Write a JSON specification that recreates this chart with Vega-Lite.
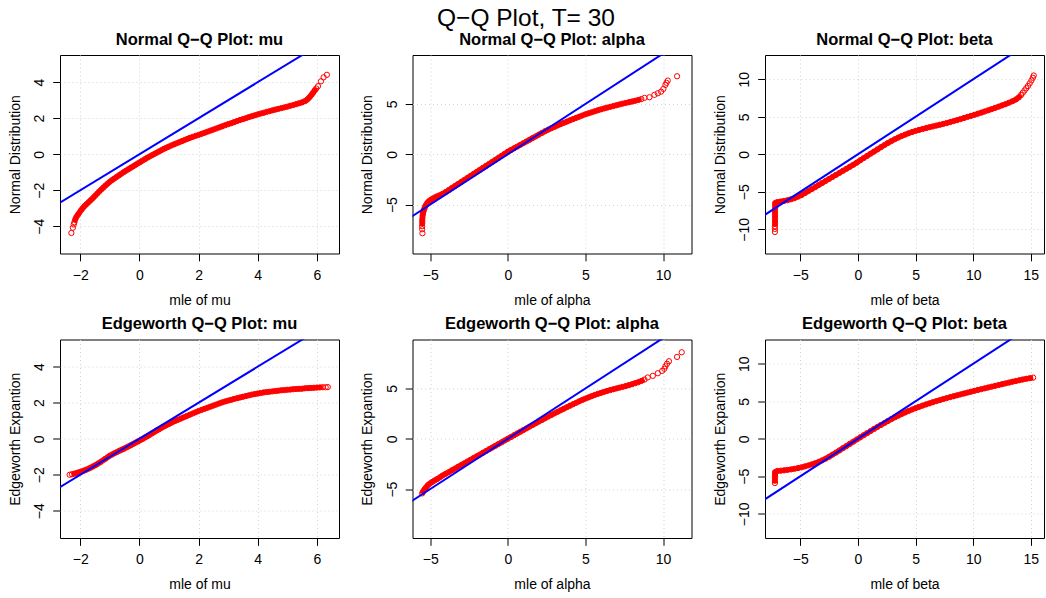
{
"$schema": "https://vega.github.io/schema/vega-lite/v6.json",
"padding": {"left": 7, "top": 5, "right": 0, "bottom": 0},
"title": {"text": "Q−Q Plot, T= 30", "fontSize": 24.5, "fontWeight": "normal", "anchor": "middle", "offset": -19, "baseline": "alphabetic"},
"columns": 3,
"spacing": {"row": 85.5, "column": 73.5},
"bounds": "flush",
"datasets": {
"ref": [{"x":-20,"y":-20},{"x":20,"y":20}],
"nm": [{"x":-2.30,"y":-4.37},{"x":-2.25,"y":-4.08},{"x":-2.22,"y":-3.90},{"x":-2.20,"y":-3.78},{"x":-2.17,"y":-3.62},{"x":-2.13,"y":-3.48},{"x":-2.08,"y":-3.36},{"x":-2.03,"y":-3.24},{"x":-1.97,"y":-3.10},{"x":-1.91,"y":-2.98},{"x":-1.85,"y":-2.87},{"x":-1.78,"y":-2.76},{"x":-1.71,"y":-2.65},{"x":-1.64,"y":-2.54},{"x":-1.57,"y":-2.43},{"x":-1.50,"y":-2.31},{"x":-1.43,"y":-2.19},{"x":-1.36,"y":-2.07},{"x":-1.29,"y":-1.96},{"x":-1.22,"y":-1.85},{"x":-1.15,"y":-1.74},{"x":-1.08,"y":-1.64},{"x":-1.01,"y":-1.54},{"x":-0.93,"y":-1.44},{"x":-0.85,"y":-1.35},{"x":-0.77,"y":-1.26},{"x":-0.69,"y":-1.17},{"x":-0.61,"y":-1.08},{"x":-0.53,"y":-0.99},{"x":-0.45,"y":-0.91},{"x":-0.37,"y":-0.83},{"x":-0.29,"y":-0.75},{"x":-0.21,"y":-0.67},{"x":-0.13,"y":-0.59},{"x":-0.05,"y":-0.51},{"x":0.03,"y":-0.43},{"x":0.11,"y":-0.35},{"x":0.19,"y":-0.27},{"x":0.27,"y":-0.19},{"x":0.35,"y":-0.12},{"x":0.43,"y":-0.05},{"x":0.51,"y":0.02},{"x":0.59,"y":0.09},{"x":0.67,"y":0.16},{"x":0.75,"y":0.23},{"x":0.83,"y":0.30},{"x":0.91,"y":0.36},{"x":0.99,"y":0.42},{"x":1.08,"y":0.49},{"x":1.17,"y":0.55},{"x":1.26,"y":0.61},{"x":1.35,"y":0.67},{"x":1.44,"y":0.73},{"x":1.53,"y":0.79},{"x":1.62,"y":0.85},{"x":1.71,"y":0.91},{"x":1.80,"y":0.96},{"x":1.90,"y":1.02},{"x":2.00,"y":1.07},{"x":2.10,"y":1.13},{"x":2.20,"y":1.19},{"x":2.30,"y":1.25},{"x":2.40,"y":1.31},{"x":2.50,"y":1.37},{"x":2.60,"y":1.43},{"x":2.70,"y":1.49},{"x":2.80,"y":1.55},{"x":2.90,"y":1.61},{"x":3.00,"y":1.67},{"x":3.10,"y":1.72},{"x":3.20,"y":1.78},{"x":3.30,"y":1.84},{"x":3.40,"y":1.90},{"x":3.50,"y":1.95},{"x":3.60,"y":2.00},{"x":3.70,"y":2.06},{"x":3.80,"y":2.11},{"x":3.90,"y":2.16},{"x":4.00,"y":2.21},{"x":4.10,"y":2.26},{"x":4.20,"y":2.30},{"x":4.30,"y":2.35},{"x":4.40,"y":2.39},{"x":4.50,"y":2.44},{"x":4.60,"y":2.48},{"x":4.70,"y":2.52},{"x":4.80,"y":2.56},{"x":4.90,"y":2.60},{"x":5.00,"y":2.64},{"x":5.10,"y":2.69},{"x":5.20,"y":2.73},{"x":5.30,"y":2.78},{"x":5.40,"y":2.83},{"x":5.50,"y":2.88},{"x":5.60,"y":2.95},{"x":5.67,"y":3.03},{"x":5.73,"y":3.12},{"x":5.78,"y":3.22},{"x":5.83,"y":3.32},{"x":5.88,"y":3.43},{"x":5.93,"y":3.55},{"x":5.98,"y":3.65},{"x":6.04,"y":3.78},{"x":6.14,"y":4.05},{"x":6.23,"y":4.27},{"x":6.34,"y":4.41}],
"na": [{"x":-5.50,"y":-7.85},{"x":-5.52,"y":-7.45},{"x":-5.52,"y":-7.15},{"x":-5.51,"y":-6.85},{"x":-5.51,"y":-6.60},{"x":-5.50,"y":-6.35},{"x":-5.49,"y":-6.10},{"x":-5.47,"y":-5.90},{"x":-5.44,"y":-5.70},{"x":-5.40,"y":-5.50},{"x":-5.35,"y":-5.30},{"x":-5.30,"y":-5.12},{"x":-5.24,"y":-4.96},{"x":-5.17,"y":-4.81},{"x":-5.09,"y":-4.68},{"x":-5.00,"y":-4.57},{"x":-4.90,"y":-4.47},{"x":-4.80,"y":-4.38},{"x":-4.68,"y":-4.28},{"x":-4.55,"y":-4.18},{"x":-4.40,"y":-4.08},{"x":-4.20,"y":-3.93},{"x":-4.00,"y":-3.75},{"x":-3.80,"y":-3.55},{"x":-3.60,"y":-3.35},{"x":-3.40,"y":-3.15},{"x":-3.20,"y":-2.95},{"x":-3.00,"y":-2.75},{"x":-2.80,"y":-2.55},{"x":-2.60,"y":-2.35},{"x":-2.40,"y":-2.15},{"x":-2.20,"y":-1.95},{"x":-2.00,"y":-1.75},{"x":-1.80,"y":-1.55},{"x":-1.60,"y":-1.35},{"x":-1.40,"y":-1.15},{"x":-1.20,"y":-0.95},{"x":-1.00,"y":-0.75},{"x":-0.80,"y":-0.55},{"x":-0.60,"y":-0.35},{"x":-0.40,"y":-0.15},{"x":-0.20,"y":0.05},{"x":0.00,"y":0.25},{"x":0.20,"y":0.42},{"x":0.40,"y":0.59},{"x":0.60,"y":0.76},{"x":0.80,"y":0.93},{"x":1.00,"y":1.10},{"x":1.20,"y":1.27},{"x":1.40,"y":1.44},{"x":1.60,"y":1.61},{"x":1.80,"y":1.78},{"x":2.00,"y":1.95},{"x":2.20,"y":2.12},{"x":2.40,"y":2.29},{"x":2.60,"y":2.44},{"x":2.80,"y":2.58},{"x":3.00,"y":2.72},{"x":3.20,"y":2.86},{"x":3.40,"y":2.99},{"x":3.60,"y":3.12},{"x":3.80,"y":3.24},{"x":4.00,"y":3.37},{"x":4.20,"y":3.49},{"x":4.40,"y":3.61},{"x":4.60,"y":3.73},{"x":4.80,"y":3.85},{"x":5.00,"y":3.97},{"x":5.20,"y":4.07},{"x":5.40,"y":4.17},{"x":5.60,"y":4.27},{"x":5.80,"y":4.37},{"x":6.00,"y":4.46},{"x":6.20,"y":4.55},{"x":6.40,"y":4.63},{"x":6.60,"y":4.71},{"x":6.80,"y":4.79},{"x":7.00,"y":4.87},{"x":7.20,"y":4.95},{"x":7.40,"y":5.03},{"x":7.60,"y":5.10},{"x":7.80,"y":5.17},{"x":8.00,"y":5.24},{"x":8.20,"y":5.31},{"x":8.40,"y":5.39},{"x":8.60,"y":5.48},{"x":8.80,"y":5.60},{"x":9.12,"y":5.66},{"x":9.44,"y":5.90},{"x":9.66,"y":6.06},{"x":9.87,"y":6.22},{"x":10.02,"y":6.49},{"x":10.15,"y":6.89},{"x":10.22,"y":7.10},{"x":10.30,"y":7.32},{"x":10.90,"y":7.75}],
"nb": [{"x":-7.20,"y":-10.36},{"x":-7.20,"y":-9.95},{"x":-7.20,"y":-9.60},{"x":-7.19,"y":-9.25},{"x":-7.19,"y":-8.90},{"x":-7.19,"y":-8.55},{"x":-7.19,"y":-8.20},{"x":-7.19,"y":-7.85},{"x":-7.19,"y":-7.50},{"x":-7.18,"y":-7.15},{"x":-7.18,"y":-6.80},{"x":-7.17,"y":-6.50},{"x":-7.00,"y":-6.38},{"x":-6.70,"y":-6.30},{"x":-6.40,"y":-6.22},{"x":-6.10,"y":-6.12},{"x":-5.80,"y":-6.00},{"x":-5.50,"y":-5.85},{"x":-5.20,"y":-5.65},{"x":-4.90,"y":-5.45},{"x":-4.60,"y":-5.18},{"x":-4.30,"y":-4.91},{"x":-4.00,"y":-4.64},{"x":-3.70,"y":-4.37},{"x":-3.40,"y":-4.10},{"x":-3.10,"y":-3.83},{"x":-2.80,"y":-3.56},{"x":-2.50,"y":-3.29},{"x":-2.20,"y":-3.02},{"x":-1.90,"y":-2.75},{"x":-1.60,"y":-2.48},{"x":-1.30,"y":-2.21},{"x":-1.00,"y":-1.94},{"x":-0.70,"y":-1.67},{"x":-0.40,"y":-1.40},{"x":-0.10,"y":-1.12},{"x":0.20,"y":-0.80},{"x":0.50,"y":-0.51},{"x":0.80,"y":-0.22},{"x":1.10,"y":0.07},{"x":1.40,"y":0.36},{"x":1.70,"y":0.65},{"x":2.00,"y":0.94},{"x":2.30,"y":1.23},{"x":2.60,"y":1.50},{"x":2.90,"y":1.76},{"x":3.20,"y":2.00},{"x":3.50,"y":2.22},{"x":3.80,"y":2.43},{"x":4.10,"y":2.62},{"x":4.40,"y":2.80},{"x":4.70,"y":2.96},{"x":5.00,"y":3.11},{"x":5.30,"y":3.24},{"x":5.60,"y":3.36},{"x":5.90,"y":3.48},{"x":6.20,"y":3.60},{"x":6.50,"y":3.71},{"x":6.80,"y":3.82},{"x":7.10,"y":3.93},{"x":7.40,"y":4.04},{"x":7.70,"y":4.16},{"x":8.00,"y":4.29},{"x":8.30,"y":4.42},{"x":8.60,"y":4.55},{"x":8.90,"y":4.69},{"x":9.20,"y":4.83},{"x":9.50,"y":4.97},{"x":9.80,"y":5.11},{"x":10.10,"y":5.25},{"x":10.40,"y":5.40},{"x":10.70,"y":5.55},{"x":11.00,"y":5.70},{"x":11.30,"y":5.86},{"x":11.60,"y":6.02},{"x":11.90,"y":6.18},{"x":12.20,"y":6.34},{"x":12.50,"y":6.51},{"x":12.80,"y":6.68},{"x":13.10,"y":6.87},{"x":13.40,"y":7.07},{"x":13.70,"y":7.30},{"x":13.95,"y":7.58},{"x":14.15,"y":7.90},{"x":14.30,"y":8.20},{"x":14.45,"y":8.50},{"x":14.60,"y":8.80},{"x":14.75,"y":9.10},{"x":14.90,"y":9.45},{"x":15.05,"y":9.85},{"x":15.18,"y":10.20},{"x":15.25,"y":10.50}],
"em": [{"x":-2.36,"y":-2.00},{"x":-2.28,"y":-1.97},{"x":-2.20,"y":-1.94},{"x":-2.12,"y":-1.90},{"x":-2.04,"y":-1.86},{"x":-1.96,"y":-1.82},{"x":-1.88,"y":-1.77},{"x":-1.80,"y":-1.72},{"x":-1.72,"y":-1.66},{"x":-1.64,"y":-1.60},{"x":-1.56,"y":-1.53},{"x":-1.48,"y":-1.46},{"x":-1.40,"y":-1.38},{"x":-1.32,"y":-1.30},{"x":-1.24,"y":-1.21},{"x":-1.16,"y":-1.12},{"x":-1.08,"y":-1.03},{"x":-1.00,"y":-0.94},{"x":-0.92,"y":-0.87},{"x":-0.84,"y":-0.80},{"x":-0.76,"y":-0.74},{"x":-0.68,"y":-0.67},{"x":-0.60,"y":-0.61},{"x":-0.52,"y":-0.55},{"x":-0.44,"y":-0.48},{"x":-0.36,"y":-0.42},{"x":-0.28,"y":-0.35},{"x":-0.20,"y":-0.28},{"x":-0.12,"y":-0.21},{"x":-0.04,"y":-0.14},{"x":0.04,"y":-0.07},{"x":0.12,"y":0.00},{"x":0.20,"y":0.08},{"x":0.28,"y":0.15},{"x":0.36,"y":0.23},{"x":0.44,"y":0.31},{"x":0.52,"y":0.39},{"x":0.60,"y":0.47},{"x":0.68,"y":0.54},{"x":0.76,"y":0.62},{"x":0.84,"y":0.69},{"x":0.92,"y":0.76},{"x":1.00,"y":0.82},{"x":1.10,"y":0.90},{"x":1.20,"y":0.98},{"x":1.30,"y":1.05},{"x":1.40,"y":1.12},{"x":1.50,"y":1.19},{"x":1.60,"y":1.26},{"x":1.70,"y":1.33},{"x":1.80,"y":1.40},{"x":1.90,"y":1.47},{"x":2.00,"y":1.54},{"x":2.10,"y":1.60},{"x":2.20,"y":1.66},{"x":2.30,"y":1.72},{"x":2.40,"y":1.78},{"x":2.50,"y":1.84},{"x":2.60,"y":1.90},{"x":2.70,"y":1.96},{"x":2.80,"y":2.02},{"x":2.90,"y":2.07},{"x":3.00,"y":2.12},{"x":3.10,"y":2.16},{"x":3.20,"y":2.21},{"x":3.30,"y":2.25},{"x":3.40,"y":2.29},{"x":3.50,"y":2.33},{"x":3.60,"y":2.37},{"x":3.70,"y":2.41},{"x":3.80,"y":2.45},{"x":3.90,"y":2.48},{"x":4.00,"y":2.51},{"x":4.10,"y":2.54},{"x":4.20,"y":2.57},{"x":4.30,"y":2.59},{"x":4.40,"y":2.61},{"x":4.50,"y":2.63},{"x":4.60,"y":2.65},{"x":4.70,"y":2.67},{"x":4.80,"y":2.69},{"x":4.90,"y":2.70},{"x":5.00,"y":2.72},{"x":5.10,"y":2.73},{"x":5.20,"y":2.75},{"x":5.30,"y":2.76},{"x":5.40,"y":2.77},{"x":5.50,"y":2.78},{"x":5.60,"y":2.80},{"x":5.70,"y":2.81},{"x":5.80,"y":2.82},{"x":5.90,"y":2.83},{"x":6.00,"y":2.84},{"x":6.10,"y":2.85},{"x":6.20,"y":2.86},{"x":6.30,"y":2.86},{"x":6.37,"y":2.87}],
"ea": [{"x":-5.52,"y":-5.43},{"x":-5.47,"y":-5.28},{"x":-5.41,"y":-5.12},{"x":-5.33,"y":-4.95},{"x":-5.24,"y":-4.78},{"x":-5.14,"y":-4.60},{"x":-5.02,"y":-4.45},{"x":-4.88,"y":-4.30},{"x":-4.72,"y":-4.15},{"x":-4.55,"y":-4.00},{"x":-4.38,"y":-3.84},{"x":-4.20,"y":-3.65},{"x":-4.00,"y":-3.48},{"x":-3.80,"y":-3.31},{"x":-3.60,"y":-3.13},{"x":-3.40,"y":-2.96},{"x":-3.20,"y":-2.78},{"x":-3.00,"y":-2.61},{"x":-2.80,"y":-2.44},{"x":-2.60,"y":-2.26},{"x":-2.40,"y":-2.09},{"x":-2.20,"y":-1.91},{"x":-2.00,"y":-1.74},{"x":-1.80,"y":-1.57},{"x":-1.60,"y":-1.39},{"x":-1.40,"y":-1.22},{"x":-1.20,"y":-1.04},{"x":-1.00,"y":-0.87},{"x":-0.80,"y":-0.70},{"x":-0.60,"y":-0.52},{"x":-0.40,"y":-0.35},{"x":-0.20,"y":-0.17},{"x":0.00,"y":0.00},{"x":0.20,"y":0.17},{"x":0.40,"y":0.35},{"x":0.60,"y":0.52},{"x":0.80,"y":0.69},{"x":1.00,"y":0.86},{"x":1.20,"y":1.03},{"x":1.40,"y":1.20},{"x":1.60,"y":1.37},{"x":1.80,"y":1.54},{"x":2.00,"y":1.71},{"x":2.20,"y":1.87},{"x":2.40,"y":2.04},{"x":2.60,"y":2.20},{"x":2.80,"y":2.36},{"x":3.00,"y":2.52},{"x":3.20,"y":2.67},{"x":3.40,"y":2.83},{"x":3.60,"y":2.98},{"x":3.80,"y":3.13},{"x":4.00,"y":3.28},{"x":4.20,"y":3.43},{"x":4.40,"y":3.57},{"x":4.60,"y":3.72},{"x":4.80,"y":3.86},{"x":5.00,"y":3.99},{"x":5.20,"y":4.11},{"x":5.40,"y":4.23},{"x":5.60,"y":4.35},{"x":5.80,"y":4.46},{"x":6.00,"y":4.56},{"x":6.20,"y":4.66},{"x":6.40,"y":4.75},{"x":6.60,"y":4.84},{"x":6.80,"y":4.92},{"x":7.00,"y":5.00},{"x":7.20,"y":5.08},{"x":7.40,"y":5.16},{"x":7.60,"y":5.24},{"x":7.80,"y":5.33},{"x":8.00,"y":5.42},{"x":8.20,"y":5.52},{"x":8.40,"y":5.62},{"x":8.60,"y":5.74},{"x":8.80,"y":5.88},{"x":9.01,"y":6.09},{"x":9.34,"y":6.25},{"x":9.66,"y":6.51},{"x":9.94,"y":6.74},{"x":10.08,"y":6.95},{"x":10.15,"y":7.20},{"x":10.25,"y":7.45},{"x":10.38,"y":7.70},{"x":10.90,"y":8.13},{"x":11.20,"y":8.59}],
"eb": [{"x":-7.20,"y":-5.90},{"x":-7.20,"y":-5.60},{"x":-7.20,"y":-5.30},{"x":-7.19,"y":-5.00},{"x":-7.19,"y":-4.70},{"x":-7.18,"y":-4.45},{"x":-7.00,"y":-4.30},{"x":-6.70,"y":-4.26},{"x":-6.40,"y":-4.21},{"x":-6.10,"y":-4.15},{"x":-5.80,"y":-4.08},{"x":-5.50,"y":-4.00},{"x":-5.20,"y":-3.91},{"x":-4.90,"y":-3.81},{"x":-4.60,"y":-3.69},{"x":-4.30,"y":-3.56},{"x":-4.00,"y":-3.42},{"x":-3.70,"y":-3.26},{"x":-3.40,"y":-3.08},{"x":-3.10,"y":-2.88},{"x":-2.80,"y":-2.65},{"x":-2.50,"y":-2.40},{"x":-2.20,"y":-2.12},{"x":-1.90,"y":-1.84},{"x":-1.60,"y":-1.55},{"x":-1.30,"y":-1.26},{"x":-1.00,"y":-0.97},{"x":-0.70,"y":-0.68},{"x":-0.40,"y":-0.39},{"x":-0.10,"y":-0.10},{"x":0.20,"y":0.19},{"x":0.50,"y":0.47},{"x":0.80,"y":0.75},{"x":1.10,"y":1.03},{"x":1.40,"y":1.31},{"x":1.70,"y":1.58},{"x":2.00,"y":1.84},{"x":2.30,"y":2.10},{"x":2.60,"y":2.36},{"x":2.90,"y":2.61},{"x":3.20,"y":2.85},{"x":3.50,"y":3.08},{"x":3.80,"y":3.30},{"x":4.10,"y":3.51},{"x":4.40,"y":3.71},{"x":4.70,"y":3.90},{"x":5.00,"y":4.08},{"x":5.30,"y":4.25},{"x":5.60,"y":4.41},{"x":5.90,"y":4.57},{"x":6.20,"y":4.72},{"x":6.50,"y":4.87},{"x":6.80,"y":5.01},{"x":7.10,"y":5.15},{"x":7.40,"y":5.29},{"x":7.70,"y":5.42},{"x":8.00,"y":5.55},{"x":8.30,"y":5.67},{"x":8.60,"y":5.79},{"x":8.90,"y":5.91},{"x":9.20,"y":6.03},{"x":9.50,"y":6.15},{"x":9.80,"y":6.27},{"x":10.10,"y":6.39},{"x":10.40,"y":6.50},{"x":10.70,"y":6.61},{"x":11.00,"y":6.72},{"x":11.30,"y":6.83},{"x":11.60,"y":6.94},{"x":11.90,"y":7.05},{"x":12.20,"y":7.16},{"x":12.50,"y":7.27},{"x":12.80,"y":7.38},{"x":13.10,"y":7.49},{"x":13.40,"y":7.60},{"x":13.70,"y":7.70},{"x":14.00,"y":7.80},{"x":14.30,"y":7.90},{"x":14.60,"y":7.99},{"x":14.90,"y":8.07},{"x":15.20,"y":8.15}]
},
"concat": [
{"width": 279, "height": 198.5, "title": "Normal Q−Q Plot: mu", "layer": [
 {"data": {"name": "nm"}, "transform": [{"filter": {"field": "x", "range": [-2.21, 6.0]}}], "mark": {"type": "line", "color": "#ff0000", "strokeWidth": 5},
  "encoding": {"x": {"field": "x", "type": "quantitative", "scale": {"domain": [-2.685, 6.75], "nice": false, "zero": false}, "axis": {"values": [-2,0,2,4,6], "title": "mle of mu"}},
   "y": {"field": "y", "type": "quantitative", "scale": {"domain": [-5.51, 5.51], "nice": false, "zero": false}, "axis": {"values": [-4,-2,0,2,4], "title": "Normal Distribution"}}, "order": {"field": "y", "type": "quantitative"}}},
 {"data": {"name": "nm"}, "mark": {"type": "point", "shape": "circle", "filled": false, "color": "#ff0000", "opacity": 1, "size": 28, "strokeWidth": 1},
  "encoding": {"x": {"field": "x", "type": "quantitative"}, "y": {"field": "y", "type": "quantitative"}}},
 {"data": {"name": "ref"}, "mark": {"type": "line", "color": "#0000ff", "strokeWidth": 2, "clip": true},
  "encoding": {"x": {"field": "x", "type": "quantitative"}, "y": {"field": "y", "type": "quantitative"}}}]},
{"width": 279, "height": 198.5, "title": "Normal Q−Q Plot: alpha", "layer": [
 {"data": {"name": "na"}, "transform": [{"filter": {"and": [{"field": "x", "lte": 8.7}, {"field": "y", "gte": -7.2}]}}], "mark": {"type": "line", "color": "#ff0000", "strokeWidth": 5},
  "encoding": {"x": {"field": "x", "type": "quantitative", "scale": {"domain": [-6.14, 11.83], "nice": false, "zero": false}, "axis": {"values": [-5,0,5,10], "title": "mle of alpha"}},
   "y": {"field": "y", "type": "quantitative", "scale": {"domain": [-9.86, 9.86], "nice": false, "zero": false}, "axis": {"values": [-5,0,5], "title": "Normal Distribution"}}, "order": {"field": "y", "type": "quantitative"}}},
 {"data": {"name": "na"}, "mark": {"type": "point", "shape": "circle", "filled": false, "color": "#ff0000", "opacity": 1, "size": 28, "strokeWidth": 1},
  "encoding": {"x": {"field": "x", "type": "quantitative"}, "y": {"field": "y", "type": "quantitative"}}},
 {"data": {"name": "ref"}, "mark": {"type": "line", "color": "#0000ff", "strokeWidth": 2, "clip": true},
  "encoding": {"x": {"field": "x", "type": "quantitative"}, "y": {"field": "y", "type": "quantitative"}}}]},
{"width": 279, "height": 198.5, "title": "Normal Q−Q Plot: beta", "layer": [
 {"data": {"name": "nb"}, "transform": [{"filter": {"and": [{"field": "x", "lte": 14.2}, {"field": "y", "gte": -9.7}]}}], "mark": {"type": "line", "color": "#ff0000", "strokeWidth": 5},
  "encoding": {"x": {"field": "x", "type": "quantitative", "scale": {"domain": [-8.06, 16.14], "nice": false, "zero": false}, "axis": {"values": [-5,0,5,10,15], "title": "mle of beta"}},
   "y": {"field": "y", "type": "quantitative", "scale": {"domain": [-13.23, 13.23], "nice": false, "zero": false}, "axis": {"values": [-10,-5,0,5,10], "title": "Normal Distribution"}}, "order": {"field": "y", "type": "quantitative"}}},
 {"data": {"name": "nb"}, "mark": {"type": "point", "shape": "circle", "filled": false, "color": "#ff0000", "opacity": 1, "size": 28, "strokeWidth": 1},
  "encoding": {"x": {"field": "x", "type": "quantitative"}, "y": {"field": "y", "type": "quantitative"}}},
 {"data": {"name": "ref"}, "mark": {"type": "line", "color": "#0000ff", "strokeWidth": 2, "clip": true},
  "encoding": {"x": {"field": "x", "type": "quantitative"}, "y": {"field": "y", "type": "quantitative"}}}]},
{"width": 279, "height": 198.5, "title": "Edgeworth Q−Q Plot: mu", "layer": [
 {"data": {"name": "em"}, "transform": [{"filter": {"field": "x", "range": [-2.3, 6.2]}}], "mark": {"type": "line", "color": "#ff0000", "strokeWidth": 5},
  "encoding": {"x": {"field": "x", "type": "quantitative", "scale": {"domain": [-2.685, 6.75], "nice": false, "zero": false}, "axis": {"values": [-2,0,2,4,6], "title": "mle of mu"}},
   "y": {"field": "y", "type": "quantitative", "scale": {"domain": [-5.51, 5.51], "nice": false, "zero": false}, "axis": {"values": [-4,-2,0,2,4], "title": "Edgeworth Expantion"}}, "order": {"field": "y", "type": "quantitative"}}},
 {"data": {"name": "em"}, "mark": {"type": "point", "shape": "circle", "filled": false, "color": "#ff0000", "opacity": 1, "size": 28, "strokeWidth": 1},
  "encoding": {"x": {"field": "x", "type": "quantitative"}, "y": {"field": "y", "type": "quantitative"}}},
 {"data": {"name": "ref"}, "mark": {"type": "line", "color": "#0000ff", "strokeWidth": 2, "clip": true},
  "encoding": {"x": {"field": "x", "type": "quantitative"}, "y": {"field": "y", "type": "quantitative"}}}]},
{"width": 279, "height": 198.5, "title": "Edgeworth Q−Q Plot: alpha", "layer": [
 {"data": {"name": "ea"}, "transform": [{"filter": {"field": "x", "lte": 8.85}}], "mark": {"type": "line", "color": "#ff0000", "strokeWidth": 5},
  "encoding": {"x": {"field": "x", "type": "quantitative", "scale": {"domain": [-6.14, 11.83], "nice": false, "zero": false}, "axis": {"values": [-5,0,5,10], "title": "mle of alpha"}},
   "y": {"field": "y", "type": "quantitative", "scale": {"domain": [-9.86, 9.86], "nice": false, "zero": false}, "axis": {"values": [-5,0,5], "title": "Edgeworth Expantion"}}, "order": {"field": "y", "type": "quantitative"}}},
 {"data": {"name": "ea"}, "mark": {"type": "point", "shape": "circle", "filled": false, "color": "#ff0000", "opacity": 1, "size": 28, "strokeWidth": 1},
  "encoding": {"x": {"field": "x", "type": "quantitative"}, "y": {"field": "y", "type": "quantitative"}}},
 {"data": {"name": "ref"}, "mark": {"type": "line", "color": "#0000ff", "strokeWidth": 2, "clip": true},
  "encoding": {"x": {"field": "x", "type": "quantitative"}, "y": {"field": "y", "type": "quantitative"}}}]},
{"width": 279, "height": 198.5, "title": "Edgeworth Q−Q Plot: beta", "layer": [
 {"data": {"name": "eb"}, "mark": {"type": "line", "color": "#ff0000", "strokeWidth": 5},
  "encoding": {"x": {"field": "x", "type": "quantitative", "scale": {"domain": [-8.06, 16.14], "nice": false, "zero": false}, "axis": {"values": [-5,0,5,10,15], "title": "mle of beta"}},
   "y": {"field": "y", "type": "quantitative", "scale": {"domain": [-13.23, 13.23], "nice": false, "zero": false}, "axis": {"values": [-10,-5,0,5,10], "title": "Edgeworth Expantion"}}, "order": {"field": "y", "type": "quantitative"}}},
 {"data": {"name": "eb"}, "mark": {"type": "point", "shape": "circle", "filled": false, "color": "#ff0000", "opacity": 1, "size": 28, "strokeWidth": 1},
  "encoding": {"x": {"field": "x", "type": "quantitative"}, "y": {"field": "y", "type": "quantitative"}}},
 {"data": {"name": "ref"}, "mark": {"type": "line", "color": "#0000ff", "strokeWidth": 2, "clip": true},
  "encoding": {"x": {"field": "x", "type": "quantitative"}, "y": {"field": "y", "type": "quantitative"}}}]}
],
"config": {
 "font": "Liberation Sans",
 "background": "#ffffff",
 "view": {"stroke": "#000000", "strokeWidth": 1},
 "title": {"font": "Liberation Sans", "fontSize": 16.5, "fontWeight": "bold", "color": "#000000", "offset": 7, "baseline": "alphabetic", "anchor": "middle"},
 "axis": {"domain": false, "grid": true, "gridColor": "#d3d3d3", "gridDash": [1, 3], "gridWidth": 1, "ticks": true, "tickColor": "#000000", "tickSize": 7.3, "tickWidth": 1, "labelFont": "Liberation Sans", "labelFontSize": 14, "labelColor": "#000000", "labelOverlap": false, "labelFlush": false, "labelBound": false, "titleFont": "Liberation Sans", "titleFontSize": 14, "titleFontWeight": "normal", "titleColor": "#000000"},
 "axisX": {"labelBaseline": "alphabetic", "labelPadding": 18.3, "labelAngle": 0, "titleY": 50.6, "titleBaseline": "alphabetic"},
 "axisY": {"labelAngle": -90, "labelAlign": "center", "labelBaseline": "alphabetic", "labelPadding": 9, "titleAngle": -90, "titleX": -41, "titleBaseline": "alphabetic"}
}
}
